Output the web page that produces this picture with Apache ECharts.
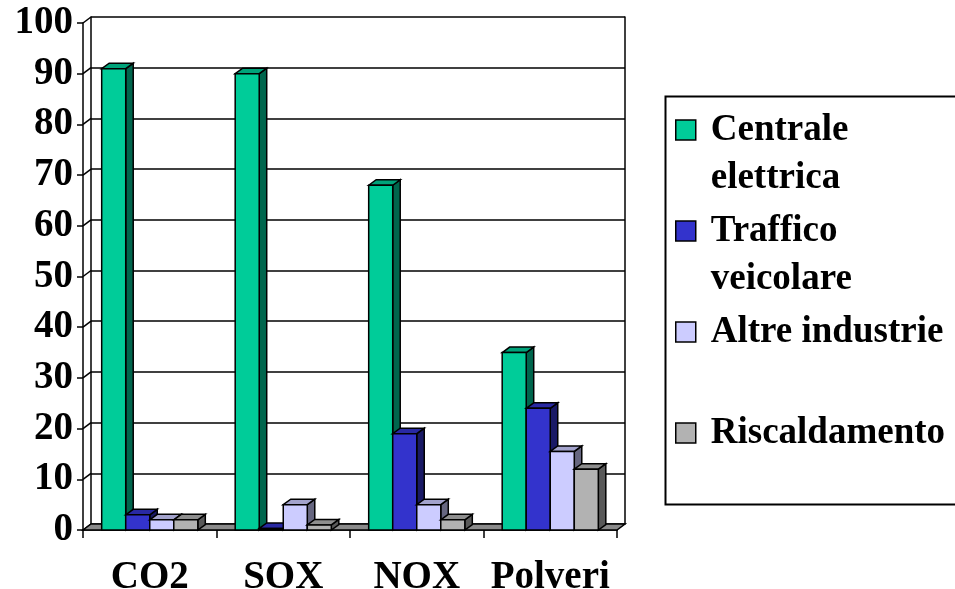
<!DOCTYPE html>
<html>
<head>
<meta charset="utf-8">
<script src="https://cdn.jsdelivr.net/npm/echarts@6/dist/echarts.min.js"></script>
<style>
  html, body { margin: 0; padding: 0; background: #ffffff; }
  #chart { width: 955px; height: 589px; }
</style>
</head>
<body>
<div id="chart"></div>
<script>
// Pollutant categories and the share contributed by each source
const categories = ['CO2', 'SOX', 'NOX', 'Polveri'];
const seriesNames = ['Centrale elettrica', 'Traffico veicolare', 'Altre industrie', 'Riscaldamento'];
const centraleElettrica = [91, 90, 68, 35];
const trafficoVeicolare = [3, 0.3, 19, 24];
const altreIndustrie = [2, 5, 5, 15.5];
const riscaldamento = [2, 1, 2, 12];
const yTicks = [0, 10, 20, 30, 40, 50, 60, 70, 80, 90, 100];

// Legend text broken over two lines
const legendLines = {
  'Centrale elettrica': 'Centrale\nelettrica',
  'Traffico veicolare': 'Traffico\nveicolare',
  'Altre industrie': 'Altre industrie\n ',
  'Riscaldamento': 'Riscaldamento\n '
};

// Face colours of each column: front, top, side
const palettes = [
  { front: '#00cc99', top: '#00a37a', side: '#00664d' },
  { front: '#3333cc', top: '#2929a3', side: '#1a1a66' },
  { front: '#ccccff', top: '#a3a3cc', side: '#666680' },
  { front: '#b2b2b2', top: '#8e8e8e', side: '#595959' }
];

const FONT = 'Liberation Serif';
const FRONT = { left: 83, top: 23, width: 534, height: 507 };
const WALL_DX = 8, WALL_DY = 6;      // depth of floor / side wall
const BAR_DX = 7.5, BAR_DY = 5.5;    // depth of each column
const BAR_FRACTION = 0.18;           // column width as share of a category band
const EDGE = { stroke: '#000', lineWidth: 1.5, lineJoin: 'miter' };

function columnRenderer(slot, pal) {
  return function (params, api) {
    const cat = api.value(0);
    const base = api.coord([cat, 0]);
    const top = api.coord([cat, api.value(1)]);
    const band = api.size([1, 0])[0];
    const w = band * BAR_FRACTION;
    const x0 = base[0] - 2 * w + slot * w;
    const x1 = x0 + w;
    const yB = base[1], yT = top[1];
    return {
      type: 'group',
      children: [
        { type: 'polygon', shape: { points: [[x1, yT], [x1 + BAR_DX, yT - BAR_DY], [x1 + BAR_DX, yB - BAR_DY], [x1, yB]] },
          style: Object.assign({ fill: pal.side }, EDGE) },
        { type: 'polygon', shape: { points: [[x0, yT], [x0 + BAR_DX, yT - BAR_DY], [x1 + BAR_DX, yT - BAR_DY], [x1, yT]] },
          style: Object.assign({ fill: pal.top }, EDGE) },
        { type: 'rect', shape: { x: x0, y: yT, width: w, height: yB - yT },
          style: Object.assign({ fill: pal.front }, EDGE) }
      ]
    };
  };
}

const seriesValues = [centraleElettrica, trafficoVeicolare, altreIndustrie, riscaldamento];

const columnSeries = seriesValues.map(function (vals, s) {
  return {
    type: 'custom',
    name: seriesNames[s],
    coordinateSystem: 'cartesian2d',
    xAxisIndex: 0,
    yAxisIndex: 0,
    z: 5,
    itemStyle: { color: palettes[s].front },
    encode: { x: 0, y: 1 },
    data: vals.map(function (v, i) { return [i, v]; }),
    renderItem: columnRenderer(s, palettes[s])
  };
});

// Floor slab under the columns
const floorSeries = {
  type: 'custom',
  name: 'floor',
  coordinateSystem: 'cartesian2d',
  xAxisIndex: 0,
  yAxisIndex: 0,
  z: 3,
  silent: true,
  encode: { x: 0, y: 1 },
  data: [[0, 0]],
  renderItem: function (params, api) {
    const cs = params.coordSys;
    const y0 = api.coord([0, 0])[1];
    const xl = cs.x, xr = cs.x + cs.width;
    return {
      type: 'polygon',
      shape: { points: [[xl, y0], [xl + WALL_DX, y0 - WALL_DY], [xr + WALL_DX, y0 - WALL_DY], [xr, y0]] },
      style: { fill: '#8a8a8a', stroke: '#000', lineWidth: 1.5 }
    };
  }
};

// Side wall links between front ticks and back gridlines
const wallSeries = {
  type: 'custom',
  name: 'wall',
  coordinateSystem: 'cartesian2d',
  xAxisIndex: 0,
  yAxisIndex: 0,
  z: 3,
  silent: true,
  encode: { x: 0, y: 1 },
  data: yTicks.map(function (t) { return [0, t]; }),
  renderItem: function (params, api) {
    const cs = params.coordSys;
    const y = api.coord([0, api.value(1)])[1];
    return {
      type: 'line',
      shape: { x1: cs.x, y1: y, x2: cs.x + WALL_DX, y2: y - WALL_DY },
      style: { stroke: '#000', lineWidth: 1.5 }
    };
  }
};

const chart = echarts.init(document.getElementById('chart'), null, { renderer: 'canvas' });

chart.setOption({
  backgroundColor: '#ffffff',
  animation: false,
  textStyle: { fontFamily: FONT },
  grid: [
    { left: FRONT.left, top: FRONT.top, width: FRONT.width, height: FRONT.height,
      containLabel: false, outerBoundsMode: 'none' },
    { left: FRONT.left + WALL_DX, top: FRONT.top - WALL_DY, width: FRONT.width, height: FRONT.height,
      containLabel: false, outerBoundsMode: 'none' }
  ],
  xAxis: [
    {
      type: 'category', gridIndex: 0, data: categories,
      axisLine: { lineStyle: { color: '#000', width: 1.5 } },
      axisTick: { show: true, interval: 0, length: 8, lineStyle: { color: '#000', width: 1.5 } },
      axisLabel: { interval: 0, color: '#000', fontFamily: FONT, fontWeight: 'bold', fontSize: 39, margin: 28 },
      splitLine: { show: false }
    },
    {
      type: 'category', gridIndex: 1, data: categories,
      axisLine: { show: false }, axisTick: { show: false }, axisLabel: { show: false }, splitLine: { show: false }
    }
  ],
  yAxis: [
    {
      type: 'value', gridIndex: 0, min: 0, max: 100, interval: 10,
      axisLine: { show: true, lineStyle: { color: '#000', width: 1.5 } },
      axisTick: { show: true, length: 6, lineStyle: { color: '#000', width: 1.5 } },
      axisLabel: { color: '#000', fontFamily: FONT, fontWeight: 'bold', fontSize: 39, margin: 10 },
      splitLine: { show: false }
    },
    {
      type: 'value', gridIndex: 1, min: 0, max: 100, interval: 10,
      axisLine: { show: true, lineStyle: { color: '#000', width: 1.5 } },
      axisTick: { show: false }, axisLabel: { show: false },
      splitLine: { show: true, lineStyle: { color: '#000', width: 1.5 } }
    },
    {
      type: 'value', gridIndex: 1, position: 'right', min: 0, max: 100, interval: 10,
      axisLine: { show: true, lineStyle: { color: '#000', width: 1.5 } },
      axisTick: { show: false }, axisLabel: { show: false }, splitLine: { show: false }
    }
  ],
  legend: {
    data: seriesNames,
    orient: 'vertical',
    left: 675,
    top: 58,
    padding: 0,
    itemGap: -43,
    itemWidth: 20,
    itemHeight: 20,
    icon: 'rect',
    selectedMode: false,
    itemStyle: { borderColor: '#000', borderWidth: 1.5 },
    formatter: function (name) { return ' \n' + legendLines[name]; },
    textStyle: { color: '#000', fontFamily: FONT, fontWeight: 'bold', fontSize: 37, lineHeight: 48, padding: [0, 0, 0, 10] }
  },
  graphic: [
    {
      type: 'rect', left: 663, top: 94, z: 0, silent: true,
      shape: { width: 320, height: 408 },
      style: { fill: 'none', stroke: '#000', lineWidth: 2 }
    }
  ],
  series: [wallSeries, floorSeries].concat(columnSeries)
});
</script>
</body>
</html>
